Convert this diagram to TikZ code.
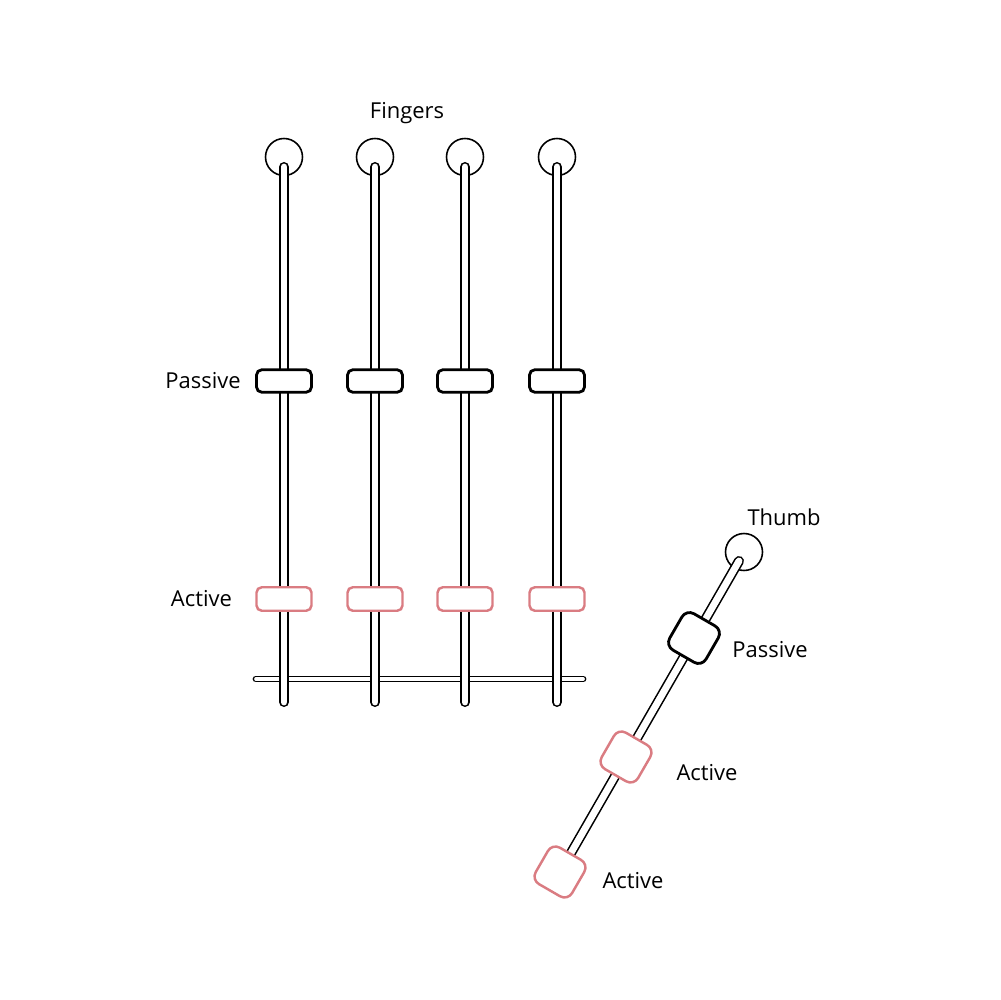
\documentclass[tikz,border=0pt]{standalone}
\usepackage{fontspec}
\setmainfont{Open Sans}
\usetikzlibrary{positioning}
\definecolor{activered}{RGB}{218,124,130}

\begin{document}
\begin{tikzpicture}[x=0.02cm, y=-0.02cm,
    fingertip/.style={circle, draw, line width=0.9pt, fill=white, minimum size=0.74cm, inner sep=0pt},
    rod/.style={line width=0.9pt, double=white, double distance=3.9pt, line cap=round},
    passivebox/.style={rectangle, draw, line width=1.6pt, fill=white, rounded corners=3pt, minimum width=1.1cm, minimum height=0.45cm, inner sep=0pt},
    activebox/.style={passivebox, draw=activered, line width=1.4pt, minimum height=0.47cm},
    thumbbox/.style={minimum width=0.84cm, minimum height=0.84cm, rounded corners=5pt, rotate=-30},
    lbl/.style={inner sep=0pt, font=\fontsize{12.5}{14}\selectfont}]
    \useasboundingbox (0,0) rectangle (1000,1000);

    % fingers
    \foreach \i/\x in {1/284, 2/375, 3/465, 4/557} {
        \node[fingertip] (tip\i) at (\x,157) {};
        \coordinate (top\i) at (\x,167);
        \coordinate (bot\i) at (\x,702);
    }
    \coordinate (barl) at (256,679);
    \coordinate (barr) at (583,679);
    \draw[rod, double distance=2.1pt] (barl) -- (barr);
    \foreach \i/\x in {1/284, 2/375, 3/465, 4/557} {
        \draw[rod] (top\i) -- (bot\i);
        \node[passivebox] (pas\i) at (\x,381) {};
        \node[activebox] (act\i) at (\x,599) {};
    }
    \node[lbl] (fingers) at (407,113) {Fingers};
    \node[lbl] (paslbl) [left = 0.28cm of pas1] {Passive};
    \node[lbl] (actlbl) [left = 0.46cm of act1] {Active};

    % thumb
    \node[fingertip] (thumbtip) at (744,552) {};
    \coordinate (ttop) at (739,561);
    \coordinate (tbot) at (560,872);
    \draw[rod] (ttop) -- (tbot);
    \node[passivebox, thumbbox] (tpas) at (694,638) {};
    \node[activebox, thumbbox] (tact1) at (626,757) {};
    \node[activebox, thumbbox] (tact2) at (560,872) {};
    \node[lbl] (thumb) at (784,517) {Thumb};
    \node[lbl] (tpaslbl) at (770,650) {Passive};
    \node[lbl] (tact1lbl) at (707,773) {Active};
    \node[lbl] (tact2lbl) at (633,881) {Active};
\end{tikzpicture}
\end{document}
